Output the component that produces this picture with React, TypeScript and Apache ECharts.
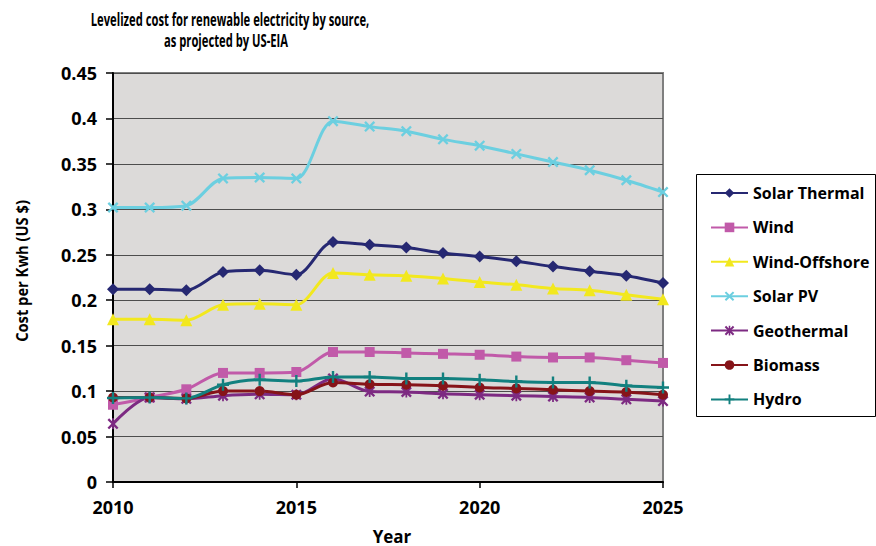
import React, { useEffect, useRef } from "react";
import * as echarts from "echarts";

const years = [2010, 2011, 2012, 2013, 2014, 2015, 2016, 2017, 2018, 2019, 2020, 2021, 2022, 2023, 2024, 2025];

const solarThermal = [0.212, 0.212, 0.211, 0.231, 0.233, 0.228, 0.264, 0.261, 0.258, 0.252, 0.248, 0.243, 0.237, 0.232, 0.227, 0.219];
const wind = [0.085, 0.093, 0.102, 0.120, 0.120, 0.121, 0.143, 0.143, 0.142, 0.141, 0.140, 0.138, 0.137, 0.137, 0.134, 0.131];
const windOffshore = [0.179, 0.179, 0.178, 0.195, 0.196, 0.195, 0.230, 0.228, 0.227, 0.224, 0.220, 0.217, 0.213, 0.211, 0.206, 0.201];
const solarPV = [0.302, 0.302, 0.304, 0.334, 0.335, 0.334, 0.397, 0.391, 0.386, 0.377, 0.370, 0.361, 0.352, 0.343, 0.332, 0.319];
const geothermal = [0.064, 0.093, 0.0915, 0.095, 0.0965, 0.096, 0.114, 0.0995, 0.099, 0.097, 0.096, 0.095, 0.094, 0.093, 0.091, 0.089];
const biomass = [0.093, 0.093, 0.092, 0.100, 0.100, 0.096, 0.1095, 0.1075, 0.107, 0.106, 0.104, 0.103, 0.1015, 0.100, 0.099, 0.096];
const hydro = [0.0925, 0.093, 0.092, 0.107, 0.1125, 0.111, 0.1155, 0.1155, 0.114, 0.114, 0.1125, 0.1105, 0.1095, 0.1095, 0.106, 0.104];

const seriesNames = ["Solar Thermal", "Wind", "Wind-Offshore", "Solar PV", "Geothermal", "Biomass", "Hydro"];
const seriesValues = [solarThermal, wind, windOffshore, solarPV, geothermal, biomass, hydro];
const seriesColors = ["#262872", "#c15aa9", "#f2e81e", "#6ccfe0", "#7d2a82", "#861419", "#12807f"];

const X_PATH = "path://M1.5,0 L5,3.5 L8.5,0 L10,1.5 L6.5,5 L10,8.5 L8.5,10 L5,6.5 L1.5,10 L0,8.5 L3.5,5 L0,1.5 Z";
const PLUS_PATH = "path://M4,0 H6 V4 H10 V6 H6 V10 H4 V6 H0 V4 H4 Z";
const STAR_PATH = "path://M1.5,0 L5,3.5 L8.5,0 L10,1.5 L6.5,5 L10,8.5 L8.5,10 L5,6.5 L1.5,10 L0,8.5 L3.5,5 L0,1.5 Z M4.2,0 H5.8 V10 H4.2 Z";
const seriesSymbols = ["diamond", "rect", "triangle", X_PATH, STAR_PATH, "circle", PLUS_PATH];
const seriesSymbolSizes = [12, 10, 12, 11, 11, 10, 12];

const FONT = "'Open Sans', Lato, sans-serif";

export default function App() {
  const ref = useRef<HTMLDivElement>(null);
  useEffect(() => {
    if (!ref.current) return;
    const chart = echarts.init(ref.current, undefined, { renderer: "svg" });
    const series = seriesNames.map((name, i) => ({
      name,
      type: "line",
      data: years.map((y, j) => [y, seriesValues[i][j]]),
      smooth: 0.3,
      symbol: seriesSymbols[i],
      symbolSize: seriesSymbolSizes[i],
      showAllSymbol: true,
      lineStyle: { width: 3, color: seriesColors[i] },
      itemStyle: { color: seriesColors[i] },
      z: 3,
    }));
    chart.setOption({
      animation: false,
      backgroundColor: "#ffffff",
      textStyle: { fontFamily: FONT },
      grid: {
        left: 113,
        right: 213,
        top: 73,
        bottom: 64,
        show: true,
        backgroundColor: "#dcdad9",
        borderColor: "#7f7f7f",
        borderWidth: 2,
      },
      legend: {
        show: true,
        orient: "vertical",
        left: 710,
        top: 182,
        padding: 0,
        itemWidth: 37,
        itemHeight: 12,
        itemGap: 12.4,
        textStyle: { fontFamily: FONT, fontWeight: "bold", fontSize: 16, color: "#000", lineHeight: 22 },
        data: seriesNames,
      },
      xAxis: {
        type: "value",
        min: 2010,
        max: 2025,
        interval: 5,
        axisLine: { show: true, lineStyle: { color: "#000", width: 2 } },
        axisTick: { show: true, length: 6, lineStyle: { color: "#000", width: 1.5 } },
        splitLine: { show: false },
        axisLabel: {
          fontFamily: FONT,
          fontWeight: "bold",
          fontSize: 18,
          color: "#000",
          margin: 16,
          formatter: (v: number) => String(v),
        },
      },
      yAxis: {
        type: "value",
        min: 0,
        max: 0.45,
        interval: 0.05,
        axisLine: { show: true, lineStyle: { color: "#000", width: 2 } },
        axisTick: { show: true, length: 7, lineStyle: { color: "#000", width: 1.5 } },
        splitLine: { show: true, lineStyle: { color: "#4d4d4d", width: 1.2 } },
        axisLabel: { fontFamily: FONT, fontWeight: "bold", fontSize: 18, color: "#000", margin: 16 },
      },
      graphic: [
        {
          type: "rect",
          left: 696,
          top: 174,
          shape: { width: 179, height: 242 },
          style: { fill: "#ffffff", stroke: "#000", lineWidth: 1 },
          z: -1,
        },
        {
          type: "text",
          x: 230,
          y: 20,
          scaleX: 0.66,
          style: {
            text: "Levelized cost for renewable electricity by source,",
            fontFamily: FONT,
            fontWeight: "bold",
            fontSize: 17,
            fill: "#000",
            align: "center",
            verticalAlign: "middle",
          },
        },
        {
          type: "text",
          x: 226,
          y: 41,
          scaleX: 0.66,
          style: {
            text: "as projected by US-EIA",
            fontFamily: FONT,
            fontWeight: "bold",
            fontSize: 17,
            fill: "#000",
            align: "center",
            verticalAlign: "middle",
          },
        },
        {
          type: "text",
          x: 392,
          y: 536,
          style: {
            text: "Year",
            fontFamily: FONT,
            fontWeight: "bold",
            fontSize: 17,
            fill: "#000",
            align: "center",
            verticalAlign: "middle",
          },
        },
        {
          type: "text",
          x: 22,
          y: 271,
          rotation: Math.PI / 2,
          scaleX: 0.92,
          style: {
            text: "Cost per Kwh (US $)",
            fontFamily: FONT,
            fontWeight: "bold",
            fontSize: 16,
            fill: "#000",
            align: "center",
            verticalAlign: "middle",
          },
        },
      ],
      series,
    });
    return () => chart.dispose();
  }, []);
  return <div ref={ref} style={{ width: 876, height: 546, position: "absolute", left: 0, top: 0 }} />;
}
